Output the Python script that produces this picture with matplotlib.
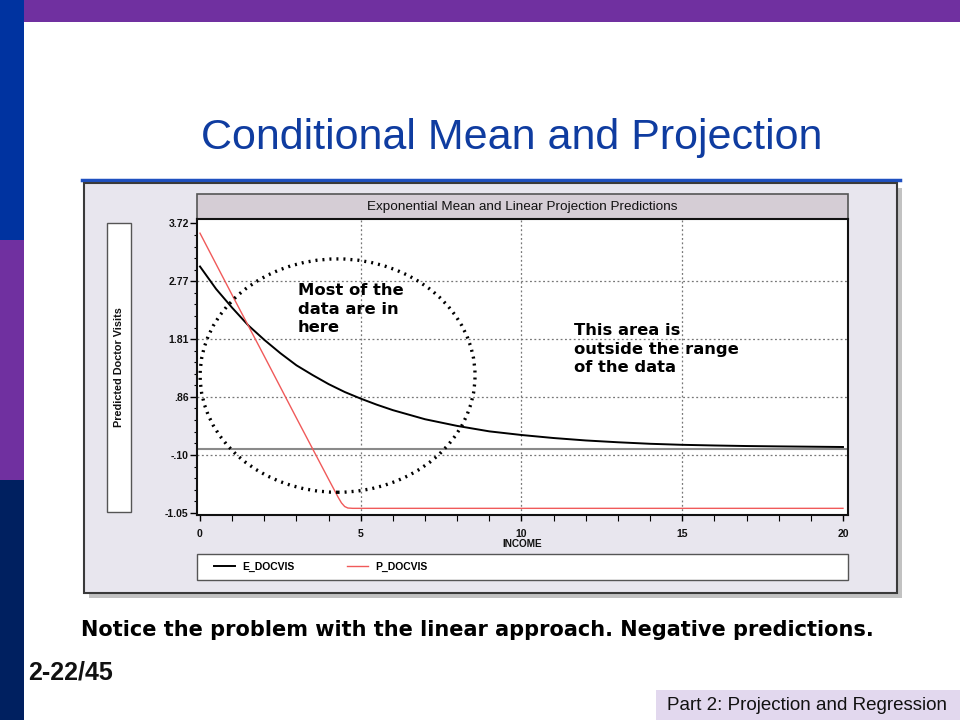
import matplotlib
matplotlib.use("Agg")
import matplotlib.pyplot as plt
from matplotlib.patches import Rectangle, Ellipse
from matplotlib.lines import Line2D
from matplotlib.ticker import MultipleLocator, FixedLocator

# ---------------- data ----------------
income_e = [0, 0.5, 1, 1.5, 2, 2.5, 3, 3.5, 4, 4.5, 5, 5.5, 6, 7, 8, 9, 10,
            11, 12, 13, 14, 15, 16, 17, 18, 19, 20]
e_docvis = [3.01, 2.64, 2.33, 2.04, 1.80, 1.58, 1.38, 1.22, 1.07, 0.94, 0.83, 0.73, 0.64,
            0.49, 0.38, 0.29, 0.23, 0.18, 0.14, 0.11, 0.085, 0.068, 0.057, 0.048, 0.042,
            0.037, 0.032]
income_p = [0, 1, 2, 3, 4, 4.3, 4.4, 4.5, 4.6, 4.75, 5, 10, 15, 20]
p_docvis = [3.56, 2.54, 1.53, 0.51, -0.50, -0.80, -0.89, -0.95, -0.975, -0.98, -0.98,
            -0.98, -0.98, -0.98]
ytick_vals = [3.72, 2.77, 1.81, 0.86, -0.10, -1.05]
ytick_labels = ["3.72", "2.77", "1.81", ".86", "-.10", "-1.05"]
xtick_vals = [0, 5, 10, 15, 20]
series_names = ["E_DOCVIS", "P_DOCVIS"]

W, H = 960, 720
fig = plt.figure(figsize=(9.6, 7.2), dpi=100)
fig.patch.set_facecolor("white")


def fx(x):
    return x / W


def fy(y):
    return 1 - y / H


def prect(x0, y0, x1, y1, **kw):
    r = Rectangle((fx(x0), fy(y1)), fx(x1) - fx(x0), fy(y0) - fy(y1),
                  transform=fig.transFigure, zorder=-1, **kw)
    fig.patches.append(r)
    return r


# slide decorations
prect(0, 0, 24, 240, facecolor="#0033A0", edgecolor="none")
prect(0, 240, 24, 480, facecolor="#7030A0", edgecolor="none")
prect(0, 480, 24, 720, facecolor="#002060", edgecolor="none")
prect(24, 0, 960, 22, facecolor="#7030A0", edgecolor="none")

fig.text(fx(512), fy(138), "Conditional Mean and Projection", ha="center", va="center",
         fontsize=31, color="#0F3CA0", family="Liberation Sans")

# chart panel with shadow
prect(89, 188, 902, 598, facecolor="#9A9A9A", edgecolor="none", alpha=0.6)
prect(84, 183, 897, 593, facecolor="#E8E6EE", edgecolor="#3A3A3A", linewidth=1.5)
fig.lines.append(Line2D([fx(82), fx(900)], [fy(180), fy(180)], transform=fig.transFigure,
                       color="#1E50C0", linewidth=2.5, zorder=-1))

# title band
prect(197, 194, 848, 219, facecolor="#D5CDD5", edgecolor="#555555", linewidth=1.2)
fig.text(fx(522), fy(207), "Exponential Mean and Linear Projection Predictions",
         ha="center", va="center", fontsize=9.7, family="Liberation Sans", color="#111111")

# y label box
prect(107, 223, 131, 512, facecolor="white", edgecolor="#555555", linewidth=1.0)
fig.text(fx(119.5), fy(367), "Predicted Doctor Visits", rotation=90, ha="center", va="center",
         fontsize=7.8, fontweight="bold", family="Liberation Sans", color="#111111")

# legend box
prect(197, 554, 848, 580, facecolor="white", edgecolor="#555555", linewidth=1.0)

# main axes
ax = fig.add_axes([fx(197), fy(515), fx(848) - fx(197), fy(219) - fy(515)])
ax.set_zorder(2)
ax.set_facecolor("white")
ax.set_xlim(-0.093, 20.156)
ax.set_ylim(-1.09, 3.794)

ax.set_yticks(ytick_vals)
ax.set_yticklabels(ytick_labels)
ax.yaxis.set_minor_locator(FixedLocator(
    [ytick_vals[i] + (ytick_vals[i + 1] - ytick_vals[i]) * k / 5
     for i in range(len(ytick_vals) - 1) for k in range(1, 5)]))
ax.set_xticks(xtick_vals)
ax.xaxis.set_minor_locator(MultipleLocator(1))

for lab in ax.get_xticklabels() + ax.get_yticklabels():
    lab.set_fontsize(7.5)
    lab.set_fontweight("bold")
    lab.set_family("Liberation Sans")
    lab.set_color("#111111")

ax.tick_params(axis="y", which="major", direction="out", length=5, width=1, pad=1)
ax.tick_params(axis="y", which="minor", direction="out", length=2.5, width=0.8)
ax.tick_params(axis="x", which="major", direction="out", length=4, width=1, pad=6)
ax.tick_params(axis="x", which="minor", direction="out", length=4, width=0.8)

for s in ax.spines.values():
    s.set_linewidth(1.5)
    s.set_color("#111111")

# grid lines
for v in ytick_vals[1:5]:
    ax.axhline(v, color="#777777", linestyle=(0, (1.5, 2)), linewidth=0.9, zorder=1)
for v in xtick_vals[1:4]:
    ax.axvline(v, color="#777777", linestyle=(0, (1.5, 2)), linewidth=0.9, zorder=1)
ax.axhline(0, color="#8A8A8A", linewidth=1.5, zorder=1)

ax.plot(income_e, e_docvis, color="black", linewidth=1.4, label=series_names[0], zorder=3)
ax.plot(income_p, p_docvis, color="#F05A5A", linewidth=1.0, label=series_names[1], zorder=3)

# dotted ellipse overlay
ell = Ellipse((4.28, 1.21), 8.55, 3.85, fill=False, edgecolor="black", linewidth=2.4,
              linestyle=(0, (0.6, 1.5)), zorder=4, clip_on=False)
ax.add_patch(ell)

fig.text(fx(522), fy(544), "INCOME", ha="center", va="center", fontsize=7.2,
         fontweight="bold", family="Liberation Sans", color="#111111")

handles, labels = ax.get_legend_handles_labels()
leg = fig.legend(handles, labels, loc="center left", bbox_to_anchor=(fx(205), fy(567)),
                 ncol=2, frameon=False, handlelength=2.0, handletextpad=0.7,
                 columnspacing=5.0, prop={"family": "Liberation Sans", "size": 7.5, "weight": "bold"})

# annotations
fig.text(fx(298), fy(283), "Most of the\ndata are in\nhere", ha="left", va="top",
         fontsize=11.8, fontweight="bold", family="DejaVu Sans", color="black", linespacing=1.3,
         zorder=10)
fig.text(fx(574), fy(323), "This area is\noutside the range\nof the data", ha="left", va="top",
         fontsize=11.8, fontweight="bold", family="DejaVu Sans", color="black", linespacing=1.3,
         zorder=10)

fig.text(fx(477), fy(630), "Notice the problem with the linear approach. Negative predictions.",
         ha="center", va="center", fontsize=15, fontweight="bold", family="DejaVu Sans",
         color="black")

fig.text(fx(28), fy(672), "2-22/45", ha="left", va="center", fontsize=18, fontweight="bold",
         family="Liberation Sans", color="#111111")

prect(656, 690, 960, 720, facecolor="#E2D8EE", edgecolor="none")
fig.text(fx(807), fy(705), "Part 2: Projection and Regression", ha="center", va="center",
         fontsize=13.5, family="Liberation Sans", color="#111111")

fig.savefig("out.png", dpi=100)
